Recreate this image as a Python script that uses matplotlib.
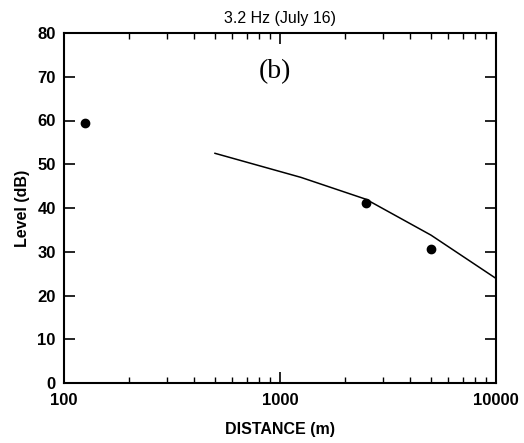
import matplotlib
matplotlib.use("Agg")
import matplotlib.pyplot as plt
from matplotlib.ticker import LogLocator, NullFormatter, FixedLocator

plt.rcParams['font.family'] = ['Liberation Sans', 'DejaVu Sans']

# data
point_dist = [125, 2500, 5000]
point_level = [59.5, 41.2, 30.6]
line_dist = [500, 1250, 2500, 5000, 10000]
line_level = [52.5, 47.0, 42.0, 33.8, 23.9]
y_ticks = [0, 10, 20, 30, 40, 50, 60, 70, 80]
x_ticks = [100, 1000, 10000]
x_tick_labels = ['100', '1000', '10000']

fig = plt.figure(figsize=(5.24, 4.43), dpi=100)
ax = fig.add_axes([64/524, 1 - 383/443, 432/524, 350/443])

ax.plot(line_dist, line_level, color='black', lw=1.1)
ax.plot(point_dist, point_level, 'o', color='black', ms=6)

ax.set_xscale('log')
ax.set_xlim(100, 10000)
ax.set_ylim(0, 80)
ax.xaxis.set_major_locator(FixedLocator(x_ticks))
ax.set_xticklabels(x_tick_labels)
ax.xaxis.set_minor_locator(LogLocator(base=10, subs=range(2, 10)))
ax.xaxis.set_minor_formatter(NullFormatter())
ax.set_yticks(y_ticks)

for s in ax.spines.values():
    s.set_linewidth(1.5)

ax.tick_params(axis='both', which='major', direction='in', length=8, width=1.2,
               top=True, right=True, labelsize=12)
ax.tick_params(axis='both', which='minor', direction='in', length=4, width=1.0,
               top=True, right=True)
for lab in ax.get_xticklabels() + ax.get_yticklabels():
    lab.set_fontweight('bold')
ax.tick_params(axis='x', pad=7)
ax.tick_params(axis='y', pad=6)

ax.set_xlabel('DISTANCE (m)', fontsize=11.5, fontweight='bold', labelpad=10)
ax.set_ylabel('Level (dB)', fontsize=11.5, fontweight='bold', labelpad=5)
ax.set_title('3.2 Hz (July 16)', fontsize=11.5, pad=7)

ax.text(0.488, 0.891, '(b)', transform=ax.transAxes, fontsize=20,
        family='Liberation Serif', ha='center', va='center')

fig.savefig('out.png', dpi=100)
